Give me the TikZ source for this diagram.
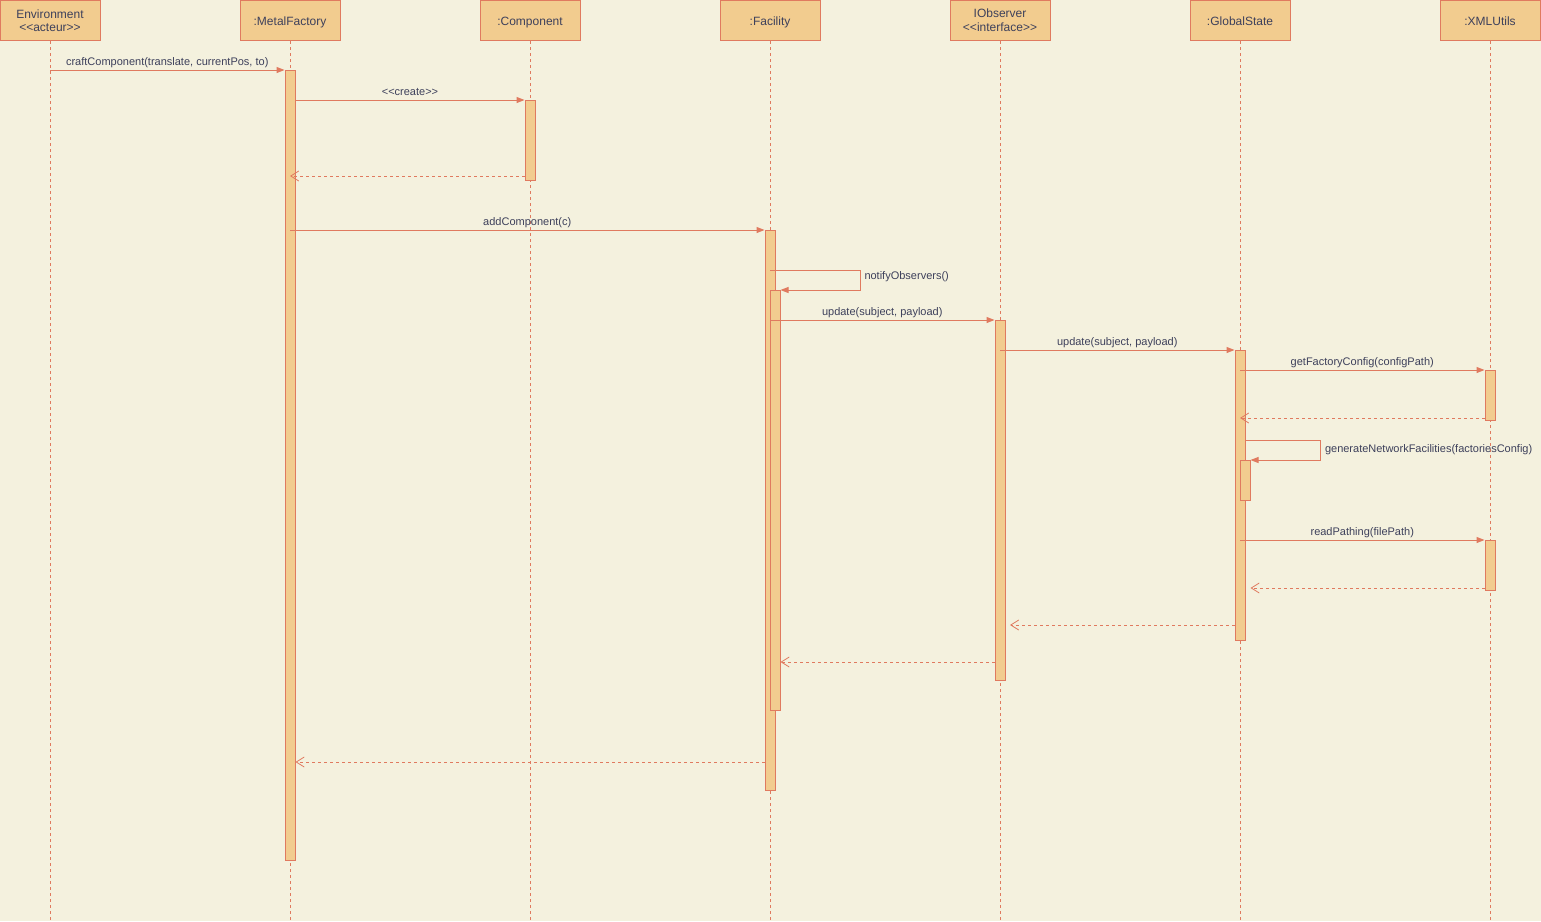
\documentclass[tikz,border=0pt]{standalone}
\usepackage{fontspec}
\setmainfont{Liberation Sans}
\usetikzlibrary{arrows.meta, positioning}
\definecolor{sqbg}{HTML}{F4F1DE}
\definecolor{sqline}{HTML}{E07A5F}
\definecolor{sqfill}{HTML}{F2CC8F}
\definecolor{sqtext}{HTML}{3D405B}
\newcommand{\stereo}[1]{<\kern0pt<#1>\kern0pt>}
\tikzset{
    headbox/.style={draw=sqline, fill=sqfill, line width=1pt, minimum width=100pt, minimum height=40pt, anchor=north, align=center, text=sqtext, font=\fontsize{12}{13}\selectfont, inner sep=0pt},
    oneline/.style={text height=10pt, text depth=0pt},
    lifeline/.style={draw=sqline, line width=0.8pt, dash pattern=on 3pt off 3pt},
    actbar/.style={draw=sqline, fill=sqfill, line width=1pt, minimum width=10pt, anchor=north, inner sep=0pt},
    callmsg/.style={draw=sqline, line width=1pt, -{Triangle[length=8pt, width=6pt]}},
    retmsg/.style={draw=sqline, line width=0.8pt, dash pattern=on 3pt off 3pt, -{Straight Barb[length=8pt, width=10pt]}},
    msglabel/.style={text=sqtext, font=\fontsize{11}{13}\selectfont, text height=8pt, text depth=2pt, inner sep=2.5pt}
}

\begin{document}
\begin{tikzpicture}[x=1pt, y=-1pt]
    % page and background
    \fill[sqbg] (0,0) rectangle (1541,921);
    \useasboundingbox (0,0) rectangle (1541,921);
    \coordinate (bottom) at (0,921);

    % lifeline heads
    \node[headbox] (env) at (50,0) {\raisebox{-1pt}{\shortstack{Environment\\[2pt]\stereo{acteur}}}};
    \node[headbox, oneline] (mf) at (290,0) {:MetalFactory};
    \node[headbox, oneline] (comp) at (530,0) {:Component};
    \node[headbox, oneline] (fac) at (770,0) {:Facility};
    \node[headbox] (obs) at (1000,0) {\raisebox{-1pt}{\shortstack{IObserver\\[2pt]\stereo{interface}}}};
    \node[headbox, oneline] (gs) at (1240,0) {:GlobalState};
    \node[headbox, oneline] (xml) at (1490,0) {:XMLUtils};

    \foreach \h in {env, mf, comp, fac, obs, gs, xml}
        \draw[lifeline] (\h.south) -- (\h.south |- bottom);

    % activation bars
    \node[actbar, minimum height=790pt] (mfAct) at (290,70) {};
    \node[actbar, minimum height=80pt] (compAct) at (530,100) {};
    \node[actbar, minimum height=560pt] (facAct) at (770,230) {};
    \node[actbar, minimum height=420pt] (facNest) at (775,290) {};
    \node[actbar, minimum height=360pt] (obsAct) at (1000,320) {};
    \node[actbar, minimum height=290pt] (gsAct) at (1240,350) {};
    \node[actbar, minimum height=40pt] (gsNest) at (1245,460) {};
    \node[actbar, minimum height=50pt] (xmlAct1) at (1490,370) {};
    \node[actbar, minimum height=50pt] (xmlAct2) at (1490,540) {};

    % rows of the self calls and returns
    \coordinate (s1) at (0,270);
    \coordinate (s2) at (0,440);
    \coordinate (r1) at (0,176);
    \coordinate (r2) at (0,418);
    \coordinate (r3) at (0,588);
    \coordinate (r4) at (1010,625);
    \coordinate (r5) at (0,662);
    \coordinate (r6) at (0,762);

    % calls
    \draw[callmsg] (env |- mfAct.north) -- node[msglabel, above] {craftComponent(translate, currentPos, to)} (mfAct.north west);
    \draw[callmsg] (mfAct.east |- compAct.north) -- node[msglabel, above] {\stereo{create}} (compAct.north west);
    \draw[callmsg] (mfAct.center |- facAct.north) -- node[msglabel, above] {addComponent(c)} (facAct.north west);
    \draw[callmsg] (facAct.center |- s1) -- ++(90,0) node[msglabel, anchor=north west, inner xsep=4pt, inner ysep=0.5pt] {notifyObservers()} |- (facNest.north east);
    \draw[callmsg] (facAct.center |- obsAct.north) -- node[msglabel, above] {update(subject, payload)} (obsAct.north west);
    \draw[callmsg] (obsAct.center |- gsAct.north) -- node[msglabel, above] {update(subject, payload)} (gsAct.north west);
    \draw[callmsg] (gsAct.center |- xmlAct1.north) -- node[msglabel, above] {getFactoryConfig(configPath)} (xmlAct1.north west);
    \draw[callmsg] (gsAct.east |- s2) -- ++(75,0) node[msglabel, anchor=north west, inner xsep=4pt, inner ysep=3.5pt] {generateNetworkFacilities(factoriesConfig)} |- (gsNest.north east);
    \draw[callmsg] (gsAct.center |- xmlAct2.north) -- node[msglabel, above] {readPathing(filePath)} (xmlAct2.north west);

    % returns
    \draw[retmsg] (compAct.west |- r1) -- (mfAct.center |- r1);
    \draw[retmsg] (xmlAct1.west |- r2) -- (gsAct.center |- r2);
    \draw[retmsg] (xmlAct2.west |- r3) -- (gsNest.east |- r3);
    \draw[retmsg] (gsAct.west |- r4) -- (r4);
    \draw[retmsg] (obsAct.west |- r5) -- (facNest.east |- r5);
    \draw[retmsg] (facAct.west |- r6) -- (mfAct.east |- r6);
\end{tikzpicture}
\end{document}
